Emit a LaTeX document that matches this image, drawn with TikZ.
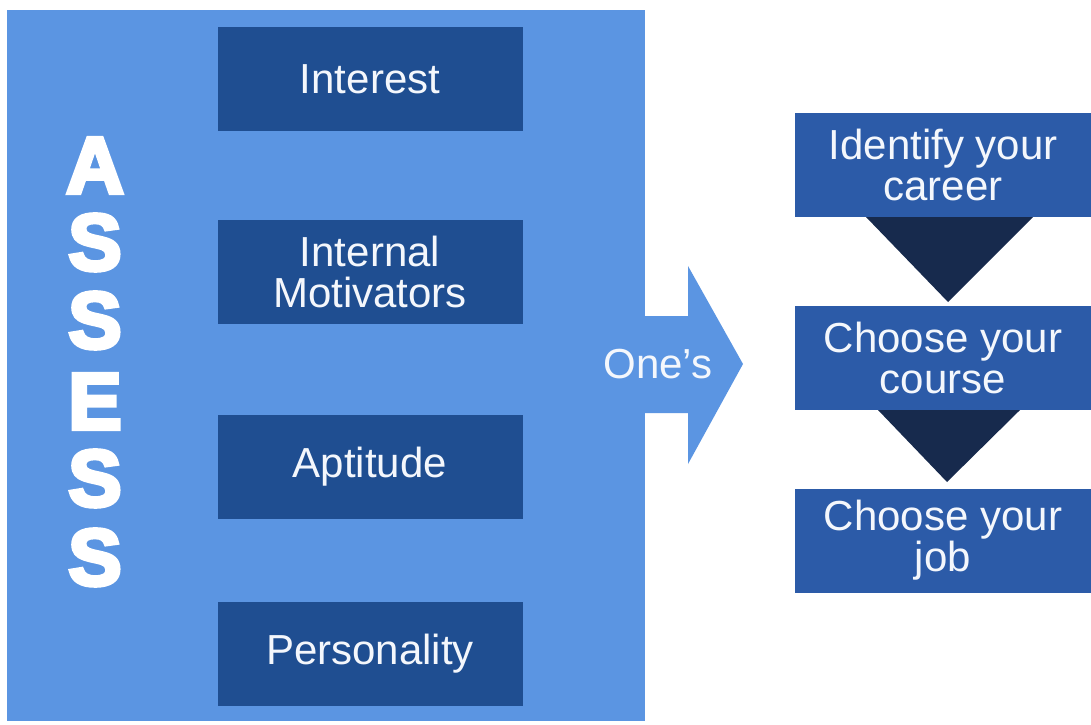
\documentclass[tikz,border=0pt]{standalone}
\usepackage{fontspec}
\setmainfont{Liberation Sans}
\newfontfamily\heavyfont{Liberation Sans}[BoldFeatures={FakeBold=5}]
\usetikzlibrary{calc}

\definecolor{panelblue}{RGB}{91,149,226}
\definecolor{factorblue}{RGB}{31,78,145}
\definecolor{stepblue}{RGB}{44,91,168}
\definecolor{navy}{RGB}{23,42,77}
\definecolor{softwhite}{RGB}{244,247,252}

\tikzset{
  factorbox/.style={fill=factorblue, inner sep=0pt, minimum width=305pt,
    minimum height=104pt, text=softwhite, align=center,
    font=\fontsize{42}{41}\selectfont},
  stepbox/.style={fill=stepblue, inner sep=0pt, minimum width=296pt,
    minimum height=104pt, text=softwhite, align=center,
    font=\fontsize{42}{41}\selectfont},
  bigletter/.style={anchor=base, inner sep=0pt, text=white,
    font=\heavyfont\bfseries\fontsize{80}{80}\selectfont},
  pointer/.style={fill=navy},
}

\begin{document}
\begin{tikzpicture}[x=1pt, y=-1pt]
\useasboundingbox (0,0) rectangle (1091,724);
\fill[white] (0,0) rectangle (1091,724);

% light panel holding the assessment factors
\node[fill=panelblue, inner sep=0pt, minimum width=638pt, minimum height=711pt]
  (panel) at (326,365.5) {};

% block arrow leaving the panel
\fill[panelblue] (640,316) -- (688,316) -- (688,266) -- (743,364)
  -- (688,464) -- (688,413) -- (640,413) -- cycle;
\node[text=softwhite, inner sep=0pt, font=\fontsize{42}{41}\selectfont]
  (ones) at (658,364) {One’s};

% vertical ASSESS lettering
\foreach \ch/\yb [count=\i] in {A/193, S/270, S/348, E/429, S/506, S/585}
  \node[bigletter] (letter\i) at (95,\yb) {\ch};

% assessment factors
\node[factorbox] (interest)   at (370,79)  {Interest};
\node[factorbox] (motivators) at (370,272) {Internal\\Motivators};
\node[factorbox] (aptitude)   at (370,467) {Aptitude};
\node[factorbox] (personality) at (370,654) {Personality};

% career steps
\node[stepbox] (career) at (943,165)   {Identify your\\career};
\node[stepbox] (course) at (943,358)   {Choose your\\course};
\node[stepbox] (job)    at (943,540.5) {Choose your\\job};

% downward pointers between steps
\fill[pointer] (866,217) -- (1033,217) -- (948,302) -- cycle;
\fill[pointer] (878,410) -- (1020,410) -- (947,482) -- cycle;
\end{tikzpicture}
\end{document}
